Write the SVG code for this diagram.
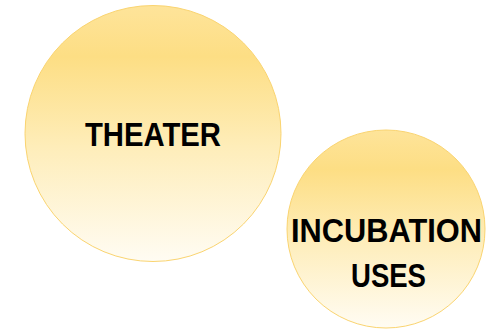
<svg xmlns="http://www.w3.org/2000/svg" width="490" height="334" viewBox="0 0 490 334">
<defs>
<linearGradient id="g" x1="0" y1="0" x2="0" y2="1">
<stop offset="0" stop-color="#FEE49A"/>
<stop offset="0.2" stop-color="#FDDE84"/>
<stop offset="0.55" stop-color="#FEEDB9"/>
<stop offset="1" stop-color="#FFFCF3"/>
</linearGradient>
</defs>
<style>
.c{fill:url(#g);stroke:#FAD470;stroke-width:1}
.t{font-family:"Liberation Sans",Arial,sans-serif;font-weight:bold;font-size:33px;fill:#000;text-anchor:middle}
</style>
<rect width="490" height="334" fill="#fff"/>
<g id="theater">
<circle class="c" cx="153" cy="133.5" r="128"/>
<text class="t" x="153" y="146" textLength="136" lengthAdjust="spacingAndGlyphs">THEATER</text>
</g>
<g id="incubation">
<circle class="c" cx="386" cy="229" r="99"/>
<text class="t" x="386.5" y="242" textLength="191" lengthAdjust="spacingAndGlyphs">INCUBATION</text>
<text class="t" x="388.5" y="287" textLength="75" lengthAdjust="spacingAndGlyphs">USES</text>
</g>
<g id="connectors"/>
</svg>
